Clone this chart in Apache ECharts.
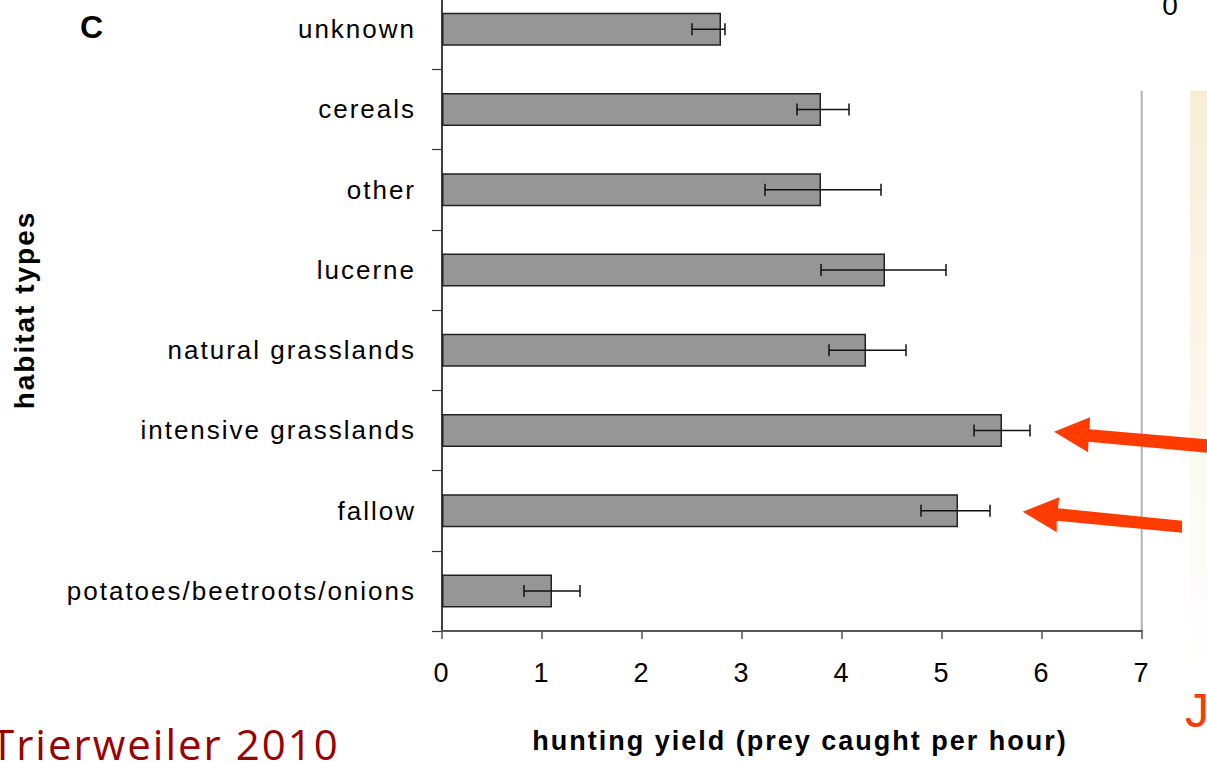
<!DOCTYPE html>
<html>
<head>
<meta charset="utf-8">
<script src="https://cdn.jsdelivr.net/npm/echarts@6/dist/echarts.min.js"></script>
<style>
  html, body { margin: 0; padding: 0; background: #fff; overflow: hidden; }
  #wrap { position: relative; width: 1207px; height: 762px; overflow: hidden; }
  #chart { position: absolute; left: 0; top: 0; width: 1207px; height: 762px; letter-spacing: 2px; }
  #cite { position: absolute; left: -9px; top: 723px; font-family: "Open Sans", sans-serif; font-size: 42px; line-height: 42px; letter-spacing: 2px; color: #990000; white-space: nowrap; }
</style>
</head>
<body>
<div id="wrap">
  <div id="chart"></div>
  <div id="cite">Trierweiler 2010</div>
</div>
<script>
// habitat types, listed bottom to top
const categories = ['potatoes/beetroots/onions', 'fallow', 'intensive grasslands', 'natural grasslands',
  'lucerne', 'other', 'cereals', 'unknown'];
// hunting yield (prey caught per hour)
const yieldMean = [1.10, 5.16, 5.60, 4.24, 4.43, 3.79, 3.79, 2.79];
// error bar ends
const errLow = [0.82, 4.79, 5.32, 3.87, 3.79, 3.23, 3.55, 2.50];
const errHigh = [1.38, 5.48, 5.88, 4.64, 5.04, 4.39, 4.07, 2.83];
// x axis ticks
const xMin = 0;
const xMax = 7;
const xStep = 1;

let errData = [];
for (let i = 0; i < categories.length; i++) {
    errData.push([i, errLow[i], errHigh[i]]);
}

let chart = echarts.init(document.getElementById('chart'), null, {renderer: 'svg'});

let option = {
    animation: false,
    backgroundColor: '#fff',
    textStyle: {fontFamily: 'Liberation Sans, Arial, sans-serif'},
    // top lies above the window, the first band is cut in the original
    grid: {left: 442, right: 65, top: -11, bottom: 131, outerBoundsMode: 'none', containLabel: false},
    xAxis: {
        type: 'value',
        min: xMin,
        max: xMax,
        interval: xStep,
        name: 'hunting yield (prey caught per hour)',
        nameLocation: 'middle',
        nameGap: 96,
        nameTextStyle: {
            fontSize: 27, fontWeight: 'bold', color: '#000',
            verticalAlign: 'top', padding: [0, 0, 0, 16]
        },
        axisLine: {show: true, lineStyle: {color: '#555', width: 2}},
        axisTick: {show: true, length: 8, lineStyle: {color: '#555', width: 1.5}},
        axisLabel: {fontSize: 27, color: '#000', margin: 28},
        splitLine: {show: false}
    },
    yAxis: {
        type: 'category',
        data: categories,
        name: 'habitat types',
        nameLocation: 'middle',
        nameGap: 404,
        nameRotate: 90,
        nameTextStyle: {fontSize: 28, fontWeight: 'bold', color: '#000'},
        axisLine: {show: true, lineStyle: {color: '#000', width: 1.5}},
        axisTick: {show: true, length: 10, lineStyle: {color: '#333', width: 1.2}},
        axisLabel: {fontSize: 26, color: '#000', margin: 26}
    },
    series: [
        {
            type: 'bar',
            data: yieldMean,
            barWidth: 33,
            itemStyle: {color: '#969696', borderColor: '#222', borderWidth: 1.5},
            z: 2
        },
        {
            // 误差线
            type: 'custom',
            data: errData,
            encode: {x: [1, 2], y: 0},
            z: 3,
            renderItem: function (params, api) {
                let cat = api.value(0);
                let p1 = api.coord([api.value(1), cat]);
                let p2 = api.coord([api.value(2), cat]);
                let h = 6;
                let st = {stroke: '#111', lineWidth: 1.5};
                return {
                    type: 'group',
                    children: [
                        {type: 'line', shape: {x1: p1[0], y1: p1[1], x2: p2[0], y2: p2[1]}, style: st},
                        {type: 'line', shape: {x1: p1[0], y1: p1[1] - h, x2: p1[0], y2: p1[1] + h}, style: st},
                        {type: 'line', shape: {x1: p2[0], y1: p2[1] - h, x2: p2[0], y2: p2[1] + h}, style: st}
                    ]
                };
            }
        }
    ],
    graphic: [
        {
            type: 'text', x: 80, y: 11,
            style: {text: 'C', font: 'bold 32px Liberation Sans, Arial, sans-serif', fill: '#000'}
        },
        {
            type: 'text', x: 1171, y: 19,
            style: {text: '0', font: '28px Liberation Sans, Arial, sans-serif', fill: '#000',
                align: 'center', verticalAlign: 'bottom'}
        },
        {
            type: 'line',
            shape: {x1: 1141.7, y1: 90.7, x2: 1141.7, y2: 631},
            style: {stroke: '#b4b4b4', lineWidth: 2}
        },
        {
            type: 'rect',
            shape: {x: 1190, y: 90.7, width: 20, height: 590},
            style: {
                fill: new echarts.graphic.LinearGradient(0, 0, 0, 1, [
                    {offset: 0, color: '#f7eed4'},
                    {offset: 0.5, color: '#fbf7eb'},
                    {offset: 1, color: '#ffffff'}
                ])
            }
        },
        {
            type: 'polygon',
            shape: {points: [[1054, 431.7], [1090, 417.3], [1089.5, 429.3], [1212, 439.7],
                [1212, 453.1], [1088.5, 441.7], [1088, 452.3]]},
            style: {fill: '#ff3b00'}
        },
        {
            type: 'polygon',
            shape: {points: [[1022.7, 511.7], [1059.3, 497.3], [1058, 508.3], [1182, 520.7],
                [1182, 532.7], [1056.7, 520.7], [1056.7, 532.3]]},
            style: {fill: '#ff3b00'}
        },
        {
            type: 'text', x: 1185, y: 734,
            style: {text: 'J', font: '48px Liberation Sans, Arial, sans-serif', fill: '#ff3b00',
                verticalAlign: 'bottom'}
        }
    ]
};

chart.setOption(option);
</script>
</body>
</html>
